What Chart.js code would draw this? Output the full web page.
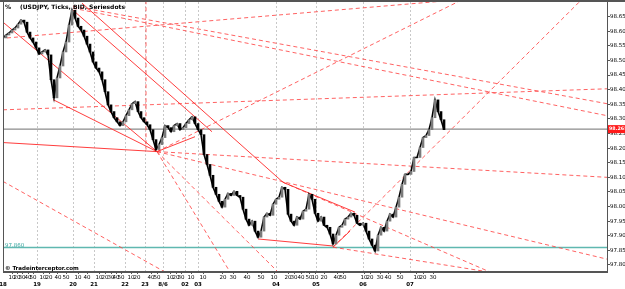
<!DOCTYPE html>
<html>
<head>
<meta charset="utf-8">
<script src="https://cdn.jsdelivr.net/npm/chart.js@4"></script>
<style>
  html, body { margin: 0; padding: 0; background: #fff; }
  #wrap { width: 625px; height: 289px; }
</style>
</head>
<body>
<div id="wrap"><canvas id="chart" width="625" height="289"></canvas></div>
<script>
// USDJPY tick chart, one sample every 3 ticks
const sampleStep = 3;
const closes = [
  98.577, 98.587, 98.594, 98.604, 98.611, 98.624, 98.638, 98.631, 98.597, 98.577,
  98.563, 98.543, 98.522, 98.529, 98.536, 98.519, 98.434, 98.372, 98.440, 98.481,
  98.529, 98.563, 98.621, 98.672, 98.645, 98.617, 98.604, 98.583, 98.556, 98.529,
  98.495, 98.474, 98.461, 98.434, 98.393, 98.348, 98.325, 98.304, 98.290, 98.277,
  98.290, 98.311, 98.331, 98.352, 98.359, 98.325, 98.304, 98.290, 98.280, 98.263,
  98.229, 98.195, 98.212, 98.236, 98.277, 98.270, 98.256, 98.277, 98.284, 98.263,
  98.270, 98.284, 98.297, 98.307, 98.284, 98.263, 98.246, 98.178, 98.144, 98.107,
  98.066, 98.042, 98.018, 97.998, 98.025, 98.045, 98.038, 98.052, 98.038, 98.032,
  97.991, 97.957, 97.936, 97.950, 97.916, 97.895, 97.916, 97.964, 97.977, 97.970,
  98.008, 98.025, 98.032, 98.066, 98.059, 97.974, 97.950, 97.936, 97.964, 97.957,
  97.984, 97.991, 98.042, 98.025, 97.977, 97.950, 97.964, 97.936, 97.929, 97.906,
  97.872, 97.902, 97.929, 97.936, 97.957, 97.964, 97.977, 97.970, 97.943, 97.936,
  97.943, 97.916, 97.889, 97.868, 97.848, 97.902, 97.929, 97.916, 97.950, 97.974,
  97.964, 97.998, 98.032, 98.076, 98.110, 98.110, 98.120, 98.168, 98.168, 98.202,
  98.236, 98.243, 98.263, 98.304, 98.365, 98.325, 98.297, 98.263
];

const currentPrice = 98.265;
const levelPrice = 97.860;

const yTicks = [97.80, 97.85, 97.90, 97.95, 98.00, 98.05, 98.10, 98.15, 98.20,
                98.25, 98.30, 98.35, 98.40, 98.45, 98.50, 98.55, 98.60, 98.65];

// hour marks: [tick index, label]
const hourTicks = [
  [0, '18'], [34, '19'], [70, '20'], [91, '21'], [122, '22'], [142, '23'],
  [160, '8/6'], [182, '02'], [195, '03'], [273, '04'], [313, '05'], [360, '06'], [407, '07']
];
const minuteTicks = [
  [9, '10'], [14, '20'], [19, '30'], [25, '40'], [30, '50'],
  [40, '10'], [46, '20'], [55, '40'], [63, '50'],
  [75, '10'], [84, '40'],
  [96, '10'], [102, '20'], [108, '30'], [113, '40'], [118, '50'],
  [128, '10'], [134, '20'],
  [148, '40'], [154, '50'],
  [167, '10'], [173, '20'], [178, '30'],
  [188, '10'],
  [200, '10'], [220, '20'], [230, '30'], [244, '40'], [258, '50'],
  [271, '10'], [285, '20'], [291, '30'], [298, '40'], [306, '50'],
  [312, '10'], [321, '20'], [334, '40'], [340, '50'],
  [361, '10'], [367, '20'], [377, '30'], [385, '40'], [397, '50'],
  [414, '10'], [420, '20'], [430, '30']
];

// drawn trend lines: [x1, price1, x2, price2]
const solidLines = [
  [0, 98.631, 154, 98.188],
  [50, 98.366, 154, 98.188],
  [0, 98.219, 154, 98.188],
  [154, 98.188, 192, 98.239],
  [70, 98.672, 209, 98.256],
  [79, 98.696, 280, 98.083],
  [280, 98.083, 352, 97.981],
  [255, 97.889, 330, 97.865],
  [330, 97.861, 347, 97.916]
];
const dashedLines = [
  [4, 98.577, 450, 98.706],
  [70, 98.686, 604, 98.352],
  [70, 98.679, 604, 98.311],
  [154, 98.188, 458, 98.706],
  [0, 98.331, 604, 98.403],
  [330, 97.861, 578, 98.706],
  [154, 98.188, 604, 97.820],
  [154, 98.188, 604, 98.100],
  [154, 98.188, 275, 97.776],
  [154, 98.188, 227, 97.776],
  [0, 98.086, 162, 97.776],
  [280, 98.083, 487, 97.776],
  [330, 97.861, 497, 97.770],
  [143, 98.706, 143, 98.195]
];

const barData = closes.map((c, i) => ({ x: i * sampleStep, y: [i ? closes[i - 1] : c, c] }));
const barColors = closes.map((c, i) => (i && c > closes[i - 1]) ? '#7a7a7a' : '#000000');

function lineSet(seg, dashed) {
  return {
    type: 'line',
    data: [{ x: seg[0], y: seg[1] }, { x: seg[2], y: seg[3] }],
    borderColor: dashed ? 'rgba(255,70,70,0.85)' : 'rgba(255,40,40,0.9)',
    borderWidth: 1,
    borderDash: dashed ? [4, 3] : [],
    pointRadius: 0,
    xAxisID: 'x',
    order: 5
  };
}

const datasets = [
  {
    type: 'line',
    data: [{ x: 0, y: currentPrice }, { x: 604, y: currentPrice }],
    borderColor: '#6e6e6e', borderWidth: 1, pointRadius: 0, order: 8
  },
  {
    type: 'line',
    data: [{ x: 0, y: levelPrice }, { x: 604, y: levelPrice }],
    borderColor: '#5fb8b0', borderWidth: 1.5, pointRadius: 0, order: 8
  },
  ...solidLines.map(s => lineSet(s, false)),
  ...dashedLines.map(s => lineSet(s, true)),
  {
    type: 'line',
    data: closes.map((c, i) => ({ x: i * sampleStep, y: c })),
    borderColor: '#000', borderWidth: 1.6, pointRadius: 0, tension: 0, order: 2
  },
  {
    type: 'bar',
    data: barData,
    backgroundColor: barColors,
    barThickness: 2,
    order: 1
  }
];

const overlay = {
  id: 'overlay',
  afterDraw(chart) {
    const { ctx, chartArea: a, scales } = chart;
    ctx.save();
    // frame
    ctx.strokeStyle = '#555';
    ctx.lineWidth = 1;
    ctx.strokeRect(a.left + 0.5, a.top - 0.5, a.right - a.left, a.bottom - a.top);
    ctx.fillStyle = '#555';
    ctx.fillRect(0, 0, 625, 2);

    ctx.font = 'bold 6px "DejaVu Sans"';
    ctx.fillStyle = '#000';
    ctx.textBaseline = 'middle';
    ctx.fillText('%', a.left + 2, a.top + 5);
    ctx.fillText('(USDJPY, Ticks, BID, Seriesdots', a.left + 17, a.top + 5);
    ctx.font = 'bold 5.5px "DejaVu Sans"';
    ctx.fillText('© Tradeinterceptor.com', a.left + 2, a.bottom - 3);

    // level label
    const yl = scales.y.getPixelForValue(levelPrice);
    ctx.font = '5.5px "DejaVu Sans"';
    ctx.fillStyle = '#3aa7a0';
    ctx.fillText(levelPrice.toFixed(3), a.left + 2, yl - 2);

    // current price tag
    const yc = scales.y.getPixelForValue(currentPrice);
    ctx.fillStyle = '#ff1a1a';
    ctx.fillRect(a.right + 1, yc - 4, 17, 8);
    ctx.fillStyle = '#fff';
    ctx.font = 'bold 4.8px "DejaVu Sans"';
    ctx.fillText(currentPrice.toFixed(3), a.right + 2, yc);
    ctx.restore();
  }
};

function ticksFrom(list) {
  return (scale) => { scale.ticks = list.map(t => ({ value: t[0] })); };
}
function fitBottom(h) {
  return (s) => { s.height = h; s.paddingLeft = 0; s.paddingRight = 0; };
}

new Chart(document.getElementById('chart'), {
  data: { datasets },
  options: {
    responsive: false,
    animation: false,
    layout: { padding: { left: 3, top: 2, right: 0, bottom: 0 } },
    plugins: { legend: { display: false }, tooltip: { enabled: false } },
    scales: {
      x: {
        type: 'linear', min: 0, max: 604, position: 'bottom', weight: 0, offset: false,
        afterBuildTicks: ticksFrom(minuteTicks),
        afterFit: fitBottom(8),
        grid: { drawOnChartArea: false, tickLength: 2, color: '#555', offset: false },
        border: { color: '#555' },
        ticks: {
          autoSkip: false, maxRotation: 0, padding: 0,
          font: { size: 5.5, family: 'DejaVu Sans' }, color: '#000',
          callback: (v) => { const t = minuteTicks.find(m => m[0] === v); return t ? t[1] : ''; }
        }
      },
      x2: {
        type: 'linear', min: 0, max: 604, position: 'bottom', weight: 1, offset: false,
        afterBuildTicks: ticksFrom(hourTicks),
        afterFit: fitBottom(9),
        grid: { drawOnChartArea: true, drawTicks: false, color: '#c8c8c8', offset: false },
        border: { display: false, dash: [2, 2] },
        ticks: {
          autoSkip: false, maxRotation: 0, padding: 1,
          font: { size: 5.5, family: 'DejaVu Sans', weight: 'bold' }, color: '#000',
          callback: (v) => { const t = hourTicks.find(h => h[0] === v); return t ? t[1] : ''; }
        }
      },
      y: {
        type: 'linear', position: 'right', min: 97.776, max: 98.70,
        afterBuildTicks: (s) => { s.ticks = yTicks.map(v => ({ value: v })); },
        afterFit: (s) => { s.width = 18; s.paddingTop = 0; s.paddingBottom = 0; },
        grid: { drawOnChartArea: false, tickLength: 3, color: '#555' },
        border: { color: '#555' },
        ticks: {
          padding: 0, font: { size: 5.5, family: 'DejaVu Sans' }, color: '#000',
          callback: (v) => v.toFixed(3)
        }
      }
    }
  },
  plugins: [overlay]
});
</script>
</body>
</html>
